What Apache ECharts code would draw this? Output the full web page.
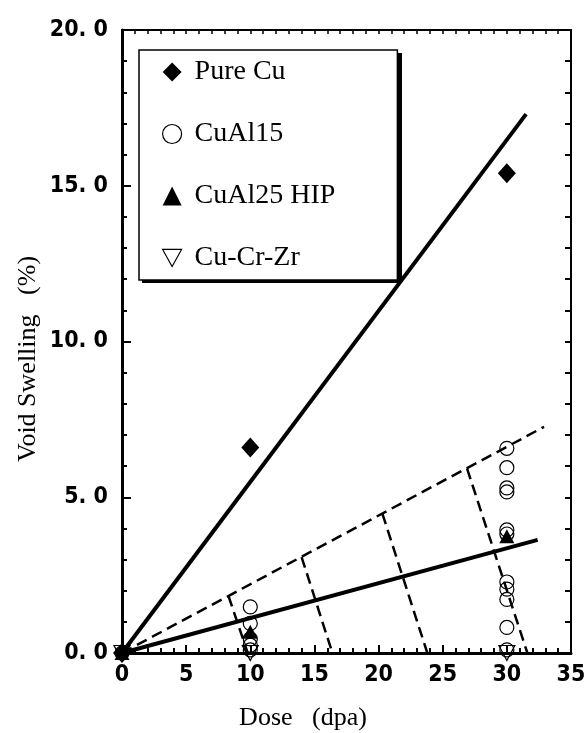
<!DOCTYPE html>
<html>
<head>
<meta charset="utf-8">
<script src="https://cdn.jsdelivr.net/npm/echarts@6.0.0/dist/echarts.min.js"></script>
<style>
    html, body { margin: 0; padding: 0; background: #fff; }
    #chart { width: 584px; height: 733px; }
</style>
</head>
<body>
<div id="chart"></div>
<script>
// measured points, dose (dpa) vs void swelling (%)
var pureCuDose = [0, 10, 30];
var pureCuSwell = [0, 6.6, 15.4];
var cuAl15Dose = [0, 10, 10, 10, 10, 10, 30, 30, 30, 30, 30, 30, 30, 30, 30, 30, 30];
var cuAl15Swell = [0, 1.48, 0.95, 0.45, 0.25, 0.1, 6.57, 5.95, 5.3, 5.17, 3.95, 3.82, 2.28, 2.05, 1.72, 0.82, 0.1];
var cuAl25Dose = [0, 10, 30];
var cuAl25Swell = [0, 0.68, 3.75];
var cuCrZrDose = [0, 10, 30];
var cuCrZrSwell = [0, 0, 0];

// trend lines (start / end)
var pureCuFitX = [0, 31.5];
var pureCuFitY = [0, 17.3];
var alloyFitX = [0, 32.4];
var alloyFitY = [0, 3.63];
var upperFitX = [0, 32.9];
var upperFitY = [0, 7.26];
// dashed drop lines from upper line to the dose axis
var dropTopX = [8.3, 14.0, 20.3, 26.9];
var dropTopY = [1.83, 3.08, 4.47, 5.92];
var dropBaseX = [9.8, 16.4, 23.8, 31.6];

var legendNames = ['Pure Cu', 'CuAl15', 'CuAl25 HIP', 'Cu-Cr-Zr'];

function pairs(xs, ys) {
    var out = [];
    for (var i = 0; i < xs.length; i++) {
        out.push([xs[i], ys[i]]);
    }
    return out;
}

var tickFont = '"DejaVu Sans Condensed", "Liberation Sans", sans-serif';
var serif = 'Liberation Serif';

var series = [
    {
        type: 'line', data: pairs(pureCuFitX, pureCuFitY), symbol: 'none', silent: true,
        lineStyle: { color: '#000', width: 4 }, z: 2
    },
    {
        type: 'line', data: pairs(alloyFitX, alloyFitY), symbol: 'none', silent: true,
        lineStyle: { color: '#000', width: 4 }, z: 2
    },
    {
        type: 'line', data: pairs(upperFitX, upperFitY), symbol: 'none', silent: true,
        lineStyle: { color: '#000', width: 2.5, type: [11, 6] }, z: 2
    }
];

for (var i = 0; i < dropTopX.length; i++) {
    series.push({
        type: 'line',
        data: [[dropTopX[i], dropTopY[i]], [dropBaseX[i], 0]],
        symbol: 'none', silent: true,
        lineStyle: { color: '#000', width: 2.5, type: [11, 6] }, z: 2
    });
}

series.push(
    {
        name: 'Pure Cu', type: 'scatter', data: pairs(pureCuDose, pureCuSwell),
        symbol: 'diamond', symbolSize: [18, 20],
        itemStyle: { color: '#000', opacity: 1 }, z: 5
    },
    {
        name: 'CuAl15', type: 'scatter', data: pairs(cuAl15Dose, cuAl15Swell),
        symbol: 'circle', symbolSize: 14,
        itemStyle: { color: 'rgba(255,255,255,0)', borderColor: '#000', borderWidth: 1.2, opacity: 1 }, z: 5
    },
    {
        name: 'CuAl25 HIP', type: 'scatter', data: pairs(cuAl25Dose, cuAl25Swell),
        symbol: 'triangle', symbolSize: [15, 14],
        itemStyle: { color: '#000', opacity: 1 }, z: 6
    },
    {
        name: 'Cu-Cr-Zr', type: 'scatter', data: pairs(cuCrZrDose, cuCrZrSwell),
        symbol: 'triangle', symbolRotate: 180, symbolSize: [16, 15],
        itemStyle: { color: 'rgba(255,255,255,0)', borderColor: '#000', borderWidth: 1.2, opacity: 1 }, z: 6
    }
);

var myChart = echarts.init(document.getElementById('chart'), null, { renderer: 'canvas' });

var option = {
    backgroundColor: '#fff',
    animation: false,
    grid: { left: 122, right: 13, top: 30, bottom: 80, containLabel: false, outerBoundsMode: 'none' },
    legend: {
        data: [
            { name: legendNames[0], icon: 'diamond' },
            { name: legendNames[1], icon: 'circle' },
            { name: legendNames[2], icon: 'triangle' },
            { name: legendNames[3], icon: 'path://M0,0 L10,0 L5,9 Z' }
        ],
        orient: 'vertical',
        left: 139,
        top: 50,
        padding: [8, 62, 8, 23],
        itemWidth: 19,
        itemHeight: 19,
        itemGap: 34,
        backgroundColor: '#fff',
        borderColor: '#000',
        borderWidth: 1.5,
        borderRadius: 0,
        z: 10,
        itemStyle: { borderWidth: 1.2 },
        textStyle: { fontFamily: serif, fontSize: 28, color: '#000', lineHeight: 28, padding: [0, 0, 0, 8] }
    },
    xAxis: [
        {
            type: 'value', position: 'bottom', min: 0, max: 35, interval: 5,
            axisLine: { onZero: false, lineStyle: { color: '#000', width: 3 } },
            axisTick: { inside: true, length: 8, lineStyle: { color: '#000', width: 2 } },
            minorTick: { show: true, splitNumber: 5, length: 5, lineStyle: { color: '#000', width: 2 } },
            axisLabel: { fontFamily: tickFont, fontWeight: 'bold', fontSize: 23, color: '#000', margin: 11 },
            splitLine: { show: false }
        },
        {
            type: 'value', position: 'top', min: 0, max: 35, interval: 1,
            axisLine: { onZero: false, lineStyle: { color: '#000', width: 2 } },
            axisTick: { inside: true, length: 4, lineStyle: { color: '#000', width: 1.5 } },
            axisLabel: { show: false },
            splitLine: { show: false }
        }
    ],
    yAxis: [
        {
            type: 'value', position: 'left', min: 0, max: 20, interval: 5,
            axisLine: { onZero: false, lineStyle: { color: '#000', width: 3 } },
            axisTick: { inside: true, length: 9, lineStyle: { color: '#000', width: 2 } },
            minorTick: { show: true, splitNumber: 5, length: 5, lineStyle: { color: '#000', width: 2 } },
            axisLabel: {
                fontFamily: tickFont, fontWeight: 'bold', fontSize: 23, color: '#000', margin: 14,
                formatter: function (v) { return v.toFixed(1).replace('.', '. '); }
            },
            splitLine: { show: false }
        },
        {
            type: 'value', position: 'right', min: 0, max: 20, interval: 1,
            axisLine: { onZero: false, lineStyle: { color: '#000', width: 2 } },
            axisTick: { inside: true, length: 6, lineStyle: { color: '#000', width: 2 } },
            axisLabel: { show: false },
            splitLine: { show: false }
        }
    ],
    graphic: [
        // drop shadow behind the legend box
        {
            type: 'rect', z: 9, silent: true,
            shape: { x: 142, y: 53, width: 260, height: 230 },
            style: { fill: '#000' }
        },
        {
            type: 'text', x: 303, y: 718,
            style: { text: 'Dose   (dpa)', font: '26px "Liberation Serif"', fill: '#000', align: 'center', verticalAlign: 'middle' }
        },
        {
            type: 'text', x: 28, y: 359, rotation: Math.PI / 2,
            style: { text: 'Void Swelling   (%)', font: '26px "Liberation Serif"', fill: '#000', align: 'center', verticalAlign: 'middle' }
        }
    ],
    series: series
};

myChart.setOption(option);
</script>
</body>
</html>
